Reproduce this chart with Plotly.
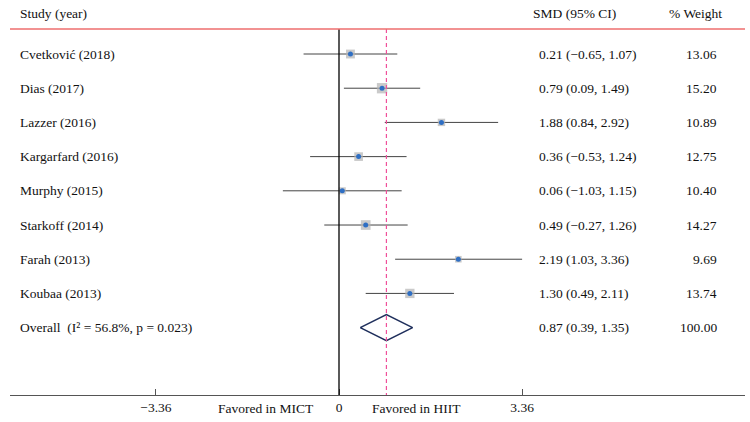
import plotly.graph_objects as go

studies = ["Cvetković (2018)", "Dias (2017)", "Lazzer (2016)", "Kargarfard (2016)",
           "Murphy (2015)", "Starkoff (2014)", "Farah (2013)", "Koubaa (2013)"]
smd = [0.21, 0.79, 1.88, 0.36, 0.06, 0.49, 2.19, 1.30]
ci_lo = [-0.65, 0.09, 0.84, -0.53, -1.03, -0.27, 1.03, 0.49]
ci_hi = [1.07, 1.49, 2.92, 1.24, 1.15, 1.26, 3.36, 2.11]
weights = [13.06, 15.20, 10.89, 12.75, 10.40, 14.27, 9.69, 13.74]

overall_label = "Overall  (I² = 56.8%, p = 0.023)"
overall = [0.87, 0.39, 1.35]
overall_weight = 100.00

tick_vals = [-3.36, 0, 3.36]
tick_text = ["−3.36", "0", "3.36"]
favored = ["Favored in MICT", "Favored in HIIT"]
favored_x = [-1.34, 1.42]

FONT = "Liberation Serif"
rows = list(range(len(studies)))
ov_row = len(studies)
top_row = -0.731
head_row = -1.17


def fmt(v):
    return f"{v:.2f}".replace("-", "−")


fig = go.Figure()

# CI lines
for r, lo, hi in zip(rows, ci_lo, ci_hi):
    fig.add_trace(go.Scatter(x=[lo, hi], y=[r, r], mode="lines",
                             line=dict(color="#444444", width=1),
                             hoverinfo="skip", showlegend=False))

# weight boxes
fig.add_trace(go.Scatter(x=smd, y=rows, mode="markers",
                         marker=dict(symbol="square", size=[w * 0.68 for w in weights],
                                     color="#b4b4b4", line=dict(width=0)),
                         showlegend=False))
fig.add_trace(go.Scatter(x=smd, y=rows, mode="markers",
                         marker=dict(symbol="circle", size=5, color="#2f6fc4"),
                         showlegend=False))

# overall diamond
est, lo, hi = overall
fig.add_trace(go.Scatter(x=[lo, est, hi, est, lo], y=[ov_row, ov_row - 0.38, ov_row, ov_row + 0.38, ov_row],
                         mode="lines", line=dict(color="#1f2f5c", width=1.6),
                         hoverinfo="skip", showlegend=False))

# reference lines
fig.add_shape(type="line", xref="x", yref="y", x0=0, x1=0, y0=top_row, y1=9.97,
              line=dict(color="black", width=1.3))
fig.add_shape(type="line", xref="x", yref="y", x0=est, x1=est, y0=top_row, y1=9.97,
              line=dict(color="#f0509a", width=1.2, dash="4px,3px"))
fig.add_shape(type="line", xref="paper", yref="y", x0=0, x1=1, y0=top_row, y1=top_row,
              line=dict(color="#ee6e6e", width=1.6))

# text columns
ann = []
ann.append(dict(x=-5.89, y=head_row, text="Study (year)", xanchor="left"))
ann.append(dict(x=3.52, y=head_row, text="SMD (95% CI)", xanchor="left"))
ann.append(dict(x=6.55, y=head_row, text="% Weight", xanchor="center"))
for r, s, m, l, h, w in zip(rows, studies, smd, ci_lo, ci_hi, weights):
    ann.append(dict(x=-5.89, y=r, text=s, xanchor="left"))
    ann.append(dict(x=3.63, y=r, text=f"{fmt(m)} ({fmt(l)}, {fmt(h)})", xanchor="left"))
    ann.append(dict(x=6.97, y=r, text=f"{w:.2f}", xanchor="right"))
ann.append(dict(x=-5.89, y=ov_row, text=overall_label, xanchor="left"))
ann.append(dict(x=3.63, y=ov_row, text=f"{fmt(est)} ({fmt(lo)}, {fmt(hi)})", xanchor="left"))
ann.append(dict(x=6.97, y=ov_row, text=f"{overall_weight:.2f}", xanchor="right"))
for a in ann:
    a.update(xref="x", yref="y", showarrow=False, yanchor="middle")
for t, fx in zip(favored, favored_x):
    ann.append(dict(x=fx, y=0, xref="x", yref="paper", text=t, showarrow=False,
                    xanchor="center", yanchor="top", yshift=-4))
for a in ann:
    a.update(font=dict(family=FONT, size=13.5, color="#111111"))
fig.update_layout(annotations=ann)

fig.update_xaxes(range=[-6.037, 7.45], tickvals=tick_vals, ticktext=tick_text,
                 ticks="inside", ticklen=6, tickcolor="#555555", showline=True,
                 linecolor="#555555", linewidth=1.3, showgrid=False, zeroline=False,
                 tickfont=dict(family=FONT, size=13.5, color="#111111"))
fig.update_yaxes(range=[9.97, -1.579], visible=False, showgrid=False, zeroline=False)
fig.update_layout(width=750, height=422, margin=dict(l=10, r=5, t=0, b=27),
                  plot_bgcolor="white", paper_bgcolor="white", showlegend=False)

fig.write_html("out.html", config={"displayModeBar": False},
               post_script="document.body.style.margin='0';")
